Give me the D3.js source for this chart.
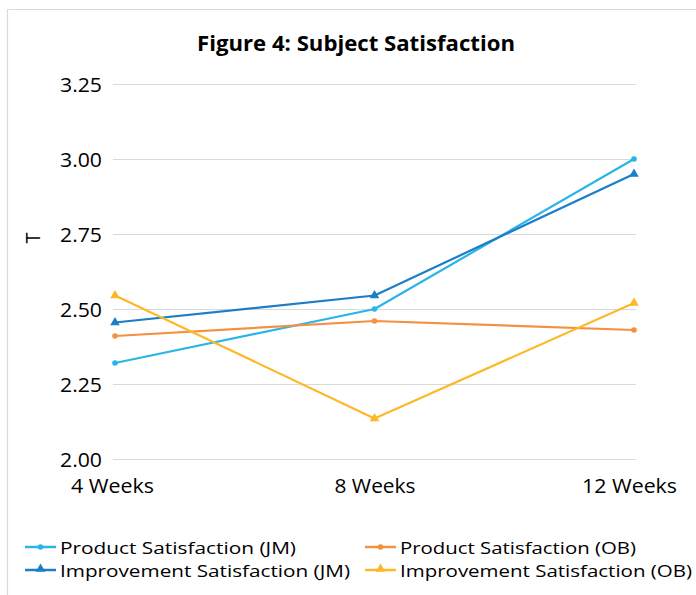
<!DOCTYPE html>
<html>
<head>
<meta charset="utf-8">
<script src="https://cdn.jsdelivr.net/npm/d3@7"></script>
<style>
  html, body { margin: 0; padding: 0; background: #fff; }
  svg { display: block; }
  text { font-family: "Open Sans", "Liberation Sans", sans-serif; fill: #000; }
</style>
</head>
<body>
<svg id="chart" width="696" height="595"></svg>
<script>
// Survey time points
const categories = ["4 Weeks", "8 Weeks", "12 Weeks"];

// Mean satisfaction scores per series
const productJM = [2.32, 2.50, 3.00];
const productOB = [2.41, 2.46, 2.43];
const improvementJM = [2.455, 2.545, 2.95];
const improvementOB = [2.545, 2.135, 2.52];

const yTicks = [2.00, 2.25, 2.50, 2.75, 3.00, 3.25];

const seriesNames = [
  "Product Satisfaction (JM)",
  "Product Satisfaction (OB)",
  "Improvement Satisfaction (JM)",
  "Improvement Satisfaction (OB)"
];

const series = [
  { name: seriesNames[0], values: productJM, color: "#29B5E8", marker: "circle" },
  { name: seriesNames[1], values: productOB, color: "#F39142", marker: "circle" },
  { name: seriesNames[2], values: improvementJM, color: "#1C7EC6", marker: "triangle" },
  { name: seriesNames[3], values: improvementOB, color: "#FDB827", marker: "triangle" }
];

const svg = d3.select("#chart");

// Chart area frame
svg.append("path")
  .attr("d", "M7.5,600 L7.5,9.5 L700,9.5")
  .attr("fill", "none")
  .attr("stroke", "#d9d9d9")
  .attr("stroke-width", 1.2);

const x = d3.scalePoint().domain(categories).range([115, 634]);
const y = d3.scaleLinear().domain([2, 3.25]).range([459, 84]);

// Title
svg.append("text")
  .attr("x", 356).attr("y", 51)
  .attr("text-anchor", "middle")
  .attr("font-size", 22)
  .attr("font-weight", "bold")
  .attr("textLength", 318)
  .attr("lengthAdjust", "spacingAndGlyphs")
  .text("Figure 4: Subject Satisfaction");

// Horizontal gridlines
svg.append("g")
  .selectAll("line")
  .data(yTicks)
  .join("line")
  .attr("x1", 113).attr("x2", 636)
  .attr("y1", d => Math.round(y(d)) + 0.5)
  .attr("y2", d => Math.round(y(d)) + 0.5)
  .attr("stroke", "#d9d9d9")
  .attr("stroke-width", 1.2);

// Y axis (labels only)
const yAxis = d3.axisLeft(y)
  .tickValues(yTicks)
  .tickFormat(d3.format(".2f"))
  .tickSize(0)
  .tickPadding(0);
const gy = svg.append("g").attr("transform", "translate(102,0)").call(yAxis);
gy.select(".domain").remove();
gy.selectAll("text")
  .attr("font-size", 20)
  .attr("font-family", "'Open Sans', sans-serif")
  .attr("fill", "#000")
  .attr("dy", "0.35em")
  .attr("textLength", 42)
  .attr("lengthAdjust", "spacingAndGlyphs");

// X axis (labels only)
const xLabelWidths = [83, 81, 95];
const xAxis = d3.axisBottom(x).tickSize(0).tickPadding(0);
const gx = svg.append("g").attr("transform", "translate(0,479)").call(xAxis);
gx.select(".domain").remove();
gx.selectAll("text")
  .attr("font-size", 20)
  .attr("font-family", "'Open Sans', sans-serif")
  .attr("fill", "#000")
  .attr("textLength", (d, i) => xLabelWidths[i])
  .attr("lengthAdjust", "spacingAndGlyphs");
// edge labels are kept inside the frame like the spreadsheet layout
gx.selectAll(".tick").filter(d => d === categories[0]).select("text").attr("dx", -3);
gx.selectAll(".tick").filter(d => d === categories[2]).select("text").attr("dx", -5);

// Y axis title
svg.append("text")
  .attr("transform", "translate(40,238) rotate(-90)")
  .attr("text-anchor", "middle")
  .attr("font-size", 20)
  .text("T");

// Lines and markers
const line = d3.line()
  .x((d, i) => x(categories[i]))
  .y(d => y(d));

const triangle = d3.symbol().type(d3.symbolTriangle).size(40);

series.forEach(s => {
  const g = svg.append("g");
  g.append("path")
    .attr("d", line(s.values))
    .attr("fill", "none")
    .attr("stroke", s.color)
    .attr("stroke-width", 2.2)
    .attr("stroke-linejoin", "round");
  if (s.marker === "circle") {
    g.selectAll("circle")
      .data(s.values)
      .join("circle")
      .attr("cx", (d, i) => x(categories[i]))
      .attr("cy", d => y(d))
      .attr("r", 2.8)
      .attr("fill", s.color);
  } else {
    g.selectAll("path.m")
      .data(s.values)
      .join("path")
      .attr("class", "m")
      .attr("d", triangle)
      .attr("transform", (d, i) => `translate(${x(categories[i])},${y(d)})`)
      .attr("fill", s.color);
  }
});

// Legend
const legendPos = [
  { x: 25, y: 547 },
  { x: 365, y: 547 },
  { x: 25, y: 570 },
  { x: 365, y: 570 }
];
const legendWidths = [236, 236, 290, 292];

series.forEach((s, i) => {
  const p = legendPos[i];
  const g = svg.append("g").attr("transform", `translate(${p.x},${p.y})`);
  g.append("line")
    .attr("x1", 0).attr("x2", 31)
    .attr("y1", 0).attr("y2", 0)
    .attr("stroke", s.color)
    .attr("stroke-width", 2.5);
  if (s.marker === "circle") {
    g.append("circle").attr("cx", 15.5).attr("cy", 0).attr("r", 2.8).attr("fill", s.color);
  } else {
    g.append("path").attr("d", triangle).attr("transform", "translate(15.5,-1)").attr("fill", s.color);
  }
  g.append("text")
    .attr("x", 35).attr("y", 6.5)
    .attr("font-size", 16.5)
    .attr("textLength", legendWidths[i])
    .attr("lengthAdjust", "spacingAndGlyphs")
    .text(s.name);
});
</script>
</body>
</html>
